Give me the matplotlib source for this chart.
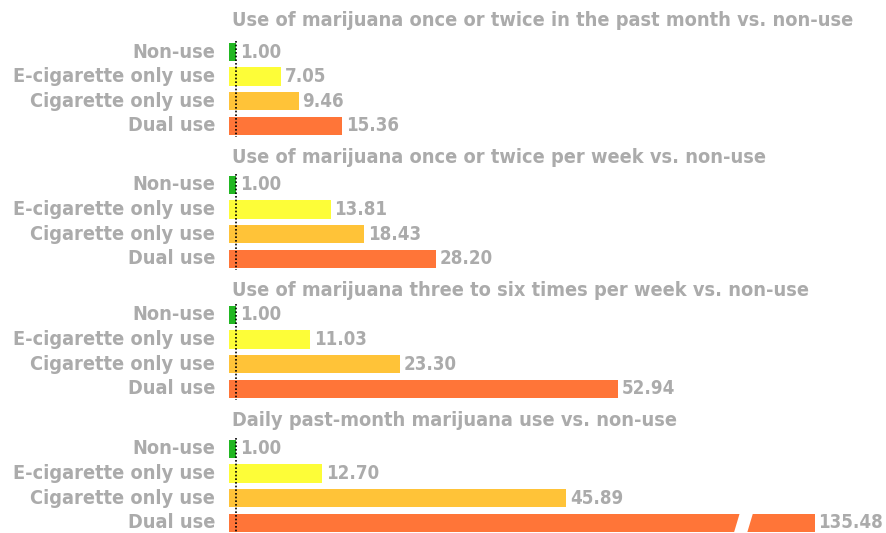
import matplotlib.pyplot as plt
from matplotlib import font_manager
from matplotlib.patches import Polygon

titles = [
    "Use of marijuana once or twice in the past month vs. non-use",
    "Use of marijuana once or twice per week vs. non-use",
    "Use of marijuana three to six times per week vs. non-use",
    "Daily past-month marijuana use vs. non-use",
]
groups = ["Non-use", "E-cigarette only use", "Cigarette only use", "Dual use"]
once_month = [1.00, 7.05, 9.46, 15.36]
once_week = [1.00, 13.81, 18.43, 28.20]
three_six_week = [1.00, 11.03, 23.30, 52.94]
daily = [1.00, 12.70, 45.89, 135.48]
panels = [once_month, once_week, three_six_week, daily]

colors = ["#22b722", "#fdfd38", "#ffc338", "#ff7538"]
grey = "#ababab"
BREAK_CAP = 79.7   # bars longer than this are drawn broken
BREAK_AT = 69.6


def pick_font():
    # look for a bold condensed face
    fonts = font_manager.fontManager.ttflist
    for f in fonts:
        if f.name == "Liberation Sans Narrow" and f.weight in (700, "bold") \
                and f.style == "normal":
            return font_manager.FontProperties(fname=f.fname), "narrow"
    for f in fonts:
        low = f.fname.lower()
        if "condensed" in low and "bold" in low and "oblique" not in low \
                and "italic" not in low:
            return font_manager.FontProperties(fname=f.fname), "cond"
    return font_manager.FontProperties(family="DejaVu Sans",
                                       weight="bold"), "plain"


fp, kind = pick_font()
size = {"narrow": 15.5, "cond": 14.3, "plain": 12.5}[kind]
fp.set_size(size)
fp_val = fp.copy()
fp_val.set_size(size * 0.94)

W, H = 886, 533
fig = plt.figure(figsize=(W / 100, H / 100), dpi=100)

first_rows = [52, 185, 315, 449]   # pixel y of first bar in each panel
title_y = [20, 158, 290, 420]
step = 24.6
x0 = 229
px_per_unit = 7.35

for i, vals in enumerate(panels):
    top = first_rows[i] - step / 2
    bottom = top + step * 4
    ax = fig.add_axes([x0 / W, 1 - bottom / H, (W - x0) / W, (bottom - top) / H])
    ax.set_xlim(0, (W - x0) / px_per_unit)
    ax.set_ylim(3.5, -0.5)
    ax.axis("off")

    for j, v in enumerate(vals):
        shown = min(v, BREAK_CAP)
        ax.barh(j, shown, height=0.75, color=colors[j], linewidth=0)
        ax.text(shown + 0.5, j, f"{v:.2f}", va="center", ha="left",
                color=grey, fontproperties=fp_val)
        ax.text(-1.9, j, groups[j], va="center", ha="right",
                color=grey, fontproperties=fp, clip_on=False)
        if v > BREAK_CAP:
            h = 0.5
            ax.add_patch(Polygon(
                [(BREAK_AT, j - h), (BREAK_AT + 1.8, j - h),
                 (BREAK_AT + 0.8, j + h), (BREAK_AT - 1.0, j + h)],
                closed=True, facecolor="white", edgecolor="none", zorder=3))

    ax.plot([1, 1], [-0.45, 3.45], color="black", linestyle=(0, (1, 1.2)),
            linewidth=1.2, zorder=4)

    fig.text(232 / W, 1 - title_y[i] / H, titles[i], ha="left", va="center",
             color=grey, fontproperties=fp)

fig.savefig("out.png", dpi=100)
